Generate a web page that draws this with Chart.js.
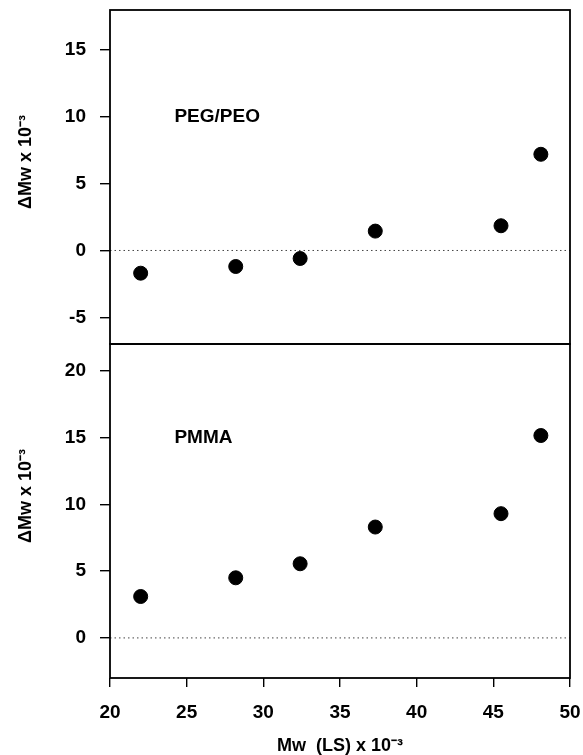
<!DOCTYPE html>
<html>
<head>
<meta charset="utf-8">
<script src="https://cdn.jsdelivr.net/npm/chart.js@4.4.1/dist/chart.umd.min.js"></script>
<style>
  html, body { margin: 0; padding: 0; background: #fff; }
  #wrap { position: relative; width: 583px; height: 755px; overflow: hidden; }
  #topChart { position: absolute; left: 0; top: 0; }
  #bottomChart { position: absolute; left: 0; top: 343px; }
</style>
</head>
<body>
<div id="wrap">
  <canvas id="topChart" width="583" height="345"></canvas>
  <canvas id="bottomChart" width="583" height="412"></canvas>
</div>
<script>
// values
const mwLS = [22.0, 28.2, 32.4, 37.3, 45.5, 48.1];
const pegDelta = [-1.7, -1.2, -0.6, 1.45, 1.85, 7.2];
const pmmaDelta = [3.1, 4.5, 5.55, 8.3, 9.3, 15.15];
const xTicks = [20, 25, 30, 35, 40, 45, 50];
const pegTicks = [-5, 0, 5, 10, 15];
const pmmaTicks = [0, 5, 10, 15, 20];
const xRange = [20, 50];
const pegRange = [-7, 18];
const pmmaRange = [-3, 22];
const zeroX = [20, 50];
const zeroY = [0, 0];

const FONT = "'Liberation Sans', Arial, sans-serif";
// leading spaces push the rotated title up a little, as in the scan
const yTitle = '      ΔMw x 10⁻³';

function toPoints(xs, ys) {
  return xs.map((x, i) => ({ x: x, y: ys[i] }));
}

// box round the plot area plus the panel name
const framePlugin = {
  id: 'frame',
  afterDatasetsDraw(chart, args, opts) {
    const a = chart.chartArea;
    const ctx = chart.ctx;
    ctx.save();
    ctx.strokeStyle = '#000';
    ctx.lineWidth = 1.8;
    ctx.strokeRect(a.left, a.top, a.right - a.left, a.bottom - a.top);
    if (opts.text) {
      ctx.fillStyle = '#000';
      ctx.font = 'bold 19px ' + FONT;
      ctx.textBaseline = 'middle';
      ctx.fillText(opts.text, chart.scales.x.getPixelForValue(opts.at[0]), chart.scales.y.getPixelForValue(opts.at[1]));
    }
    ctx.restore();
  }
};

function makePanel(id, ys, yRange, yTickList, label, labelAt, showX) {
  const ctx = document.getElementById(id).getContext('2d');
  return new Chart(ctx, {
    type: 'scatter',
    data: {
      datasets: [
        {
          type: 'line',
          data: toPoints(zeroX, zeroY),
          borderColor: '#444',
          borderWidth: 1,
          borderDash: [1.5, 3],
          pointRadius: 0,
          fill: false
        },
        {
          data: toPoints(mwLS, ys),
          backgroundColor: '#000',
          borderColor: '#000',
          pointRadius: 7,
          pointHoverRadius: 7
        }
      ]
    },
    plugins: [framePlugin],
    options: {
      responsive: false,
      animation: false,
      events: [],
      layout: {
        autoPadding: false,
        padding: showX ? { left: 0, right: 13, top: 1, bottom: 0 } : { left: 0, right: 13, top: 10, bottom: 1 }
      },
      plugins: {
        legend: { display: false },
        tooltip: { enabled: false },
        frame: { text: label, at: labelAt }
      },
      scales: {
        x: {
          type: 'linear',
          display: showX,
          min: xRange[0],
          max: xRange[1],
          afterBuildTicks: s => { s.ticks = xTicks.map(v => ({ value: v })); },
          afterFit: s => {
            if (showX) s.height = 77;
            s.paddingLeft = 0;
            s.paddingRight = 0;
          },
          grid: { drawOnChartArea: false, drawTicks: true, tickLength: 9, color: '#000', lineWidth: 1.4 },
          border: { display: false },
          ticks: { color: '#000', padding: 14, font: { family: FONT, size: 19, weight: 'bold' }, maxRotation: 0 },
          title: {
            display: true,
            text: 'Mw  (LS) x 10⁻³',
            color: '#000',
            font: { family: FONT, size: 18, weight: 'bold', lineHeight: 1 },
            padding: { top: 0, bottom: 0 }
          }
        },
        y: {
          type: 'linear',
          min: yRange[0],
          max: yRange[1],
          afterBuildTicks: s => { s.ticks = yTickList.map(v => ({ value: v })); },
          afterFit: s => {
            s.width = 110;
            s.paddingTop = 0;
            s.paddingBottom = 0;
          },
          grid: { drawOnChartArea: false, drawTicks: true, tickLength: 10, color: '#000', lineWidth: 1.4 },
          border: { display: false },
          ticks: { color: '#000', padding: 14, font: { family: FONT, size: 19, weight: 'bold' } },
          title: {
            display: true,
            text: yTitle,
            color: '#000',
            font: { family: FONT, size: 18, weight: 'bold' },
            padding: { top: 15, bottom: 0 }
          }
        }
      }
    }
  });
}

makePanel('topChart', pegDelta, pegRange, pegTicks, 'PEG/PEO', [24.2, 10], false);
makePanel('bottomChart', pmmaDelta, pmmaRange, pmmaTicks, 'PMMA', [24.2, 15], true);
</script>
</body>
</html>
